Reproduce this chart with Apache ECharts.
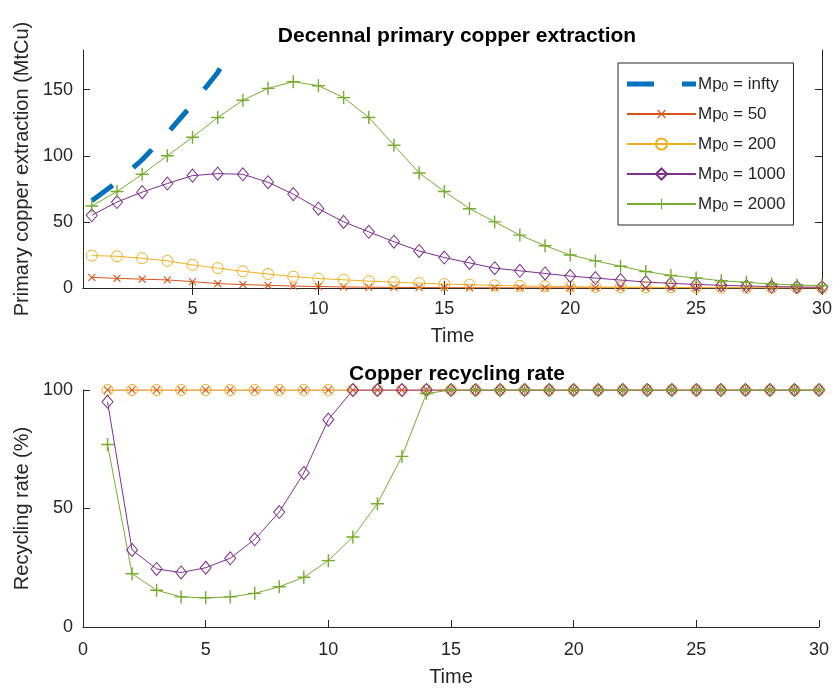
<!DOCTYPE html>
<html>
<head>
<meta charset="utf-8">
<script src="https://cdn.jsdelivr.net/npm/echarts@6/dist/echarts.min.js"></script>
<style>html,body{margin:0;padding:0;background:#fff}#c{width:836px;height:691px}</style>
</head>
<body>
<div id="c"></div>
<script>
// ---- data ----
const time = [1,2,3,4,5,6,7,8,9,10,11,12,13,14,15,16,17,18,19,20,21,22,23,24,25,26,27,28,29,30];
const seriesNames = ['infty','50','200','1000','2000'];
const extInfty = [66, 80, 97, 117, 139, 163, 197];
const ext50 = [8, 7.3, 6.7, 6.1, 4.8, 3.3, 2.6, 2.0, 1.5, 1.1, 0.8, 0.6, 0.45, 0.35, 0.25, 0.2, 0.15, 0.1, 0.08, 0.06, 0.05, 0.04, 0.03, 0.02, 0.02, 0.01, 0.01, 0.01, 0.01, 0.01];
const ext200 = [24.5, 24, 22.5, 20.5, 17.5, 15, 12.6, 10.6, 8.6, 7.2, 6.2, 5.2, 4.4, 3.7, 3.0, 2.5, 2.0, 1.6, 1.3, 1.0, 0.8, 0.65, 0.5, 0.4, 0.3, 0.25, 0.2, 0.15, 0.12, 0.1];
const ext1000 = [55, 65, 72.5, 79, 85, 86.5, 86, 80, 71, 60, 50, 42.5, 35, 28, 23, 19, 15, 13, 11, 9, 7.5, 6, 4.5, 3.5, 2.7, 2, 1.5, 1.1, 0.8, 0.6];
const ext2000 = [62, 73, 86, 100, 114, 129, 142, 151, 156, 153, 144, 129, 108, 87, 73, 60, 50, 40, 32, 25, 20.5, 16.5, 12.5, 9.5, 7.5, 5.5, 4.3, 3, 2.3, 1.8];
const rec50 = [100,100,100,100,100,100,100,100,100,100,100,100,100,100,100,100,100,100,100,100,100,100,100,100,100,100,100,100,100,100];
const rec200 = [100,100,100,100,100,100,100,100,100,100,100,100,100,100,100,100,100,100,100,100,100,100,100,100,100,100,100,100,100,100];
const rec1000 = [95, 32.5, 24.5, 23, 25, 29, 37, 48.5, 65, 87.5, 100,100,100,100,100,100,100,100,100,100,100,100,100,100,100,100,100,100,100,100];
const rec2000 = [77, 22.5, 15.5, 12.7, 12.3, 12.7, 14.2, 17, 21, 28, 38, 52, 72, 98.5, 100,100,100,100,100,100,100,100,100,100,100,100,100,100,100,100];
const topTicksX = [5,10,15,20,25,30];
const topTicksY = [0,50,100,150];
const titles = ['Decennal primary copper extraction', 'Copper recycling rate'];

// ---- styles ----
const FONT = "'Liberation Sans', Arial, Helvetica, sans-serif";
const AX = '#262626';
const colors = {infty:'#0072BD', '50':'#D95319', '200':'#EDB120', '1000':'#7E2F8E', '2000':'#77AC30'};
const PLUS = 'path://M4.45,0H5.55V4.45H10V5.55H5.55V10H4.45V5.55H0V4.45H4.45Z';
const DASH_ICON = 'path://M0,0H27V5H0Z M55,0H69V5H55Z';
const markers = {
  infty: {symbol:'none'},
  '50': {symbol: PLUS, symbolSize: 10, symbolRotate: 45, fill: true},
  '200': {symbol:'circle', symbolSize: 11, fill: false},
  '1000': {symbol:'diamond', symbolSize: [11,13], fill: false},
  '2000': {symbol: PLUS, symbolSize: 13, fill: true}
};
const pairs = (ys) => ys.map((v,i) => [time[i], v]);

function mkSeries(name, ys, gi) {
  const c = colors[name], m = markers[name];
  const s = {
    name: name, type: 'line', xAxisIndex: gi === 0 ? 0 : 2, yAxisIndex: gi === 0 ? 0 : 2,
    data: pairs(ys), animation: false, clip: true,
    lineStyle: {color: c, width: 1},
    emphasis: {disabled: true}
  };
  if (name === 'infty') {
    s.symbol = 'none'; s.showSymbol = false;
    s.lineStyle = {color: c, width: 5, type: [26, 27], cap: 'butt'};
    s.itemStyle = {color: c};
  } else {
    s.symbol = m.symbol; s.symbolSize = m.symbolSize;
    if (m.symbolRotate) s.symbolRotate = m.symbolRotate;
    s.showAllSymbol = true;
    s.itemStyle = m.fill ? {color: c, borderWidth: 0} : {color: 'rgba(255,255,255,0)', borderColor: c, borderWidth: 1};
  }
  return s;
}

const series = [
  mkSeries('infty', extInfty, 0),
  mkSeries('50', ext50, 0),
  mkSeries('200', ext200, 0),
  mkSeries('1000', ext1000, 0),
  mkSeries('2000', ext2000, 0),
  mkSeries('50', rec50, 1),
  mkSeries('200', rec200, 1),
  mkSeries('1000', rec1000, 1),
  mkSeries('2000', rec2000, 1)
];

const axLine = {show: true, lineStyle: {color: AX, width: 1}};
const lbl = {color: AX, fontSize: 18, fontFamily: FONT};
const nameStyle = {color: AX, fontSize: 20, fontFamily: FONT};

const legendData = seriesNames.map(n => n === 'infty'
  ? {name: n, icon: DASH_ICON, itemStyle: {color: colors[n]}}
  : {name: n});

const option = {
  backgroundColor: '#fff',
  animation: false,
  textStyle: {fontFamily: FONT},
  title: [
    {text: titles[0], left: 452, top: 21, textAlign: 'center',
     textStyle: {fontSize: 21, fontWeight: 'bold', color: '#000', fontFamily: FONT}},
    {text: titles[1], left: 452, top: 359, textAlign: 'center',
     textStyle: {fontSize: 21, fontWeight: 'bold', color: '#000', fontFamily: FONT}}
  ],
  grid: [
    {left: 83, right: 14, top: 50, height: 238, containLabel: false},
    {left: 83, right: 17, top: 390, height: 237, containLabel: false}
  ],
  legend: {
    data: legendData,
    orient: 'vertical', left: 618, top: 63,
    padding: [10, 8, 11, 8],
    itemWidth: 69, itemHeight: 14, itemGap: 9,
    backgroundColor: '#fff', borderColor: AX, borderWidth: 1, borderRadius: 0,
    selectedMode: false,
    formatter: (n) => '{a|Mp}{b|0}{a| = ' + n + '}',
    textStyle: {
      color: AX, fontFamily: FONT, padding: [0,0,0,-3],
      rich: {
        a: {fontSize: 17, color: AX, fontFamily: FONT, lineHeight: 20, verticalAlign: 'middle'},
        b: {fontSize: 12, color: AX, fontFamily: FONT, lineHeight: 20, verticalAlign: 'bottom', padding: [9,0,0,0]}
      }
    }
  },
  xAxis: [
    {gridIndex: 0, type: 'value', min: 0.65, max: 30, position: 'bottom',
     axisLine: axLine,
     axisTick: {show: true, inside: true, length: 7, lineStyle: {color: AX}, customValues: topTicksX},
     axisLabel: Object.assign({margin: 12, customValues: topTicksX}, lbl),
     splitLine: {show: false},
     name: 'Time', nameLocation: 'middle', nameGap: 38, nameTextStyle: nameStyle},
    {gridIndex: 0, type: 'value', min: 0.65, max: 30, position: 'top',
     axisLine: axLine,
     axisTick: {show: true, inside: true, length: 7, lineStyle: {color: AX}, customValues: topTicksX},
     axisLabel: {show: false}, splitLine: {show: false}},
    {gridIndex: 1, type: 'value', min: 0, max: 30, interval: 5, position: 'bottom',
     axisLine: axLine,
     axisTick: {show: true, inside: true, length: 7, lineStyle: {color: AX}},
     axisLabel: Object.assign({margin: 14}, lbl),
     splitLine: {show: false},
     name: 'Time', nameLocation: 'middle', nameGap: 40, nameTextStyle: nameStyle}
  ],
  yAxis: [
    {gridIndex: 0, type: 'value', min: 0, max: 180, position: 'left',
     axisLine: axLine,
     axisTick: {show: true, inside: true, length: 7, lineStyle: {color: AX}, customValues: topTicksY},
     axisLabel: Object.assign({margin: 10, customValues: topTicksY}, lbl),
     splitLine: {show: false},
     name: 'Primary copper extraction (MtCu)', nameLocation: 'middle', nameGap: 46, nameRotate: 90, nameTextStyle: nameStyle},
    {gridIndex: 0, type: 'value', min: 0, max: 180, position: 'right',
     axisLine: axLine,
     axisTick: {show: true, inside: true, length: 7, lineStyle: {color: AX}, customValues: topTicksY},
     axisLabel: {show: false}, splitLine: {show: false}},
    {gridIndex: 1, type: 'value', min: 0, max: 100, interval: 50, position: 'left',
     axisLine: axLine,
     axisTick: {show: true, inside: true, length: 7, lineStyle: {color: AX}},
     axisLabel: Object.assign({margin: 10}, lbl),
     splitLine: {show: false},
     name: 'Recycling rate (%)', nameLocation: 'middle', nameGap: 46, nameRotate: 90, nameTextStyle: nameStyle}
  ],
  series: series
};

const chart = echarts.init(document.getElementById('c'), null, {renderer: 'canvas'});
chart.setOption(option);
</script>
</body>
</html>
